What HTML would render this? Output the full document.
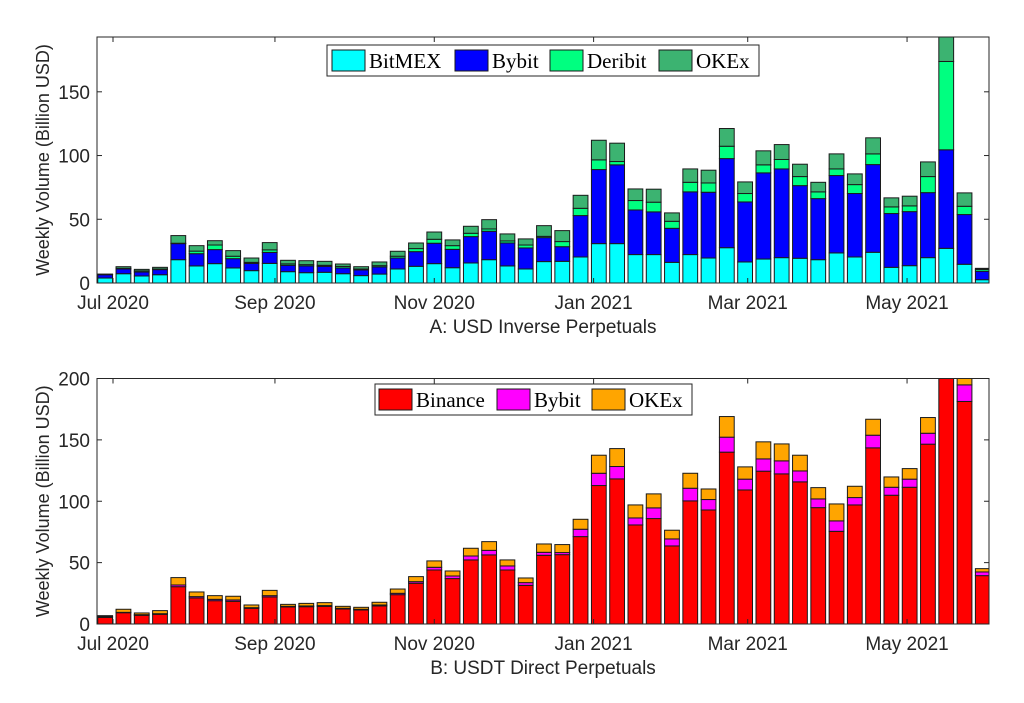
<!DOCTYPE html>
<html><head><meta charset="utf-8"><style>
html,body{margin:0;padding:0;background:#fff;}
svg{display:block;font-family:"Liberation Sans",sans-serif;}
.leg{font-family:"Liberation Serif",serif;font-size:21px;}
</style></head><body>
<svg id="chart" width="1024" height="703" viewBox="0 0 1024 703"></svg>
<script>
// ---- data ----
const weekCount = 49;
const xTickLabels = ["Jul 2020","Sep 2020","Nov 2020","Jan 2021","Mar 2021","May 2021"];
const xTickDays = [0, 62, 123, 184, 243, 304];
const aNames = ["BitMEX","Bybit","Deribit","OKEx"];
const aBitmex = [3.9,7.3,5.5,6.5,18.3,13.4,15.2,11.8,9.7,15.4,8.9,8.1,8.4,7.3,5.8,7.0,11.0,13.1,15.2,12.0,15.7,18.3,13.4,11.0,16.8,17.0,20.4,30.9,30.9,22.3,22.3,16.2,22.3,19.6,27.7,16.5,18.8,19.9,19.4,18.3,23.6,20.4,24.1,12.3,13.6,19.9,27.2,14.7,2.6];
const aBybit = [2.6,3.7,3.1,4.0,12.6,9.6,11.0,7.3,5.7,8.6,5.0,5.3,4.7,4.5,4.4,5.6,8.6,11.5,16.0,14.4,20.7,22.3,18.0,16.5,18.8,11.5,32.5,58.1,61.8,35.0,33.5,26.7,49.2,51.6,69.9,47.1,67.6,69.6,57.0,47.9,60.7,49.8,68.8,42.2,42.4,51.0,77.3,39.0,6.6];
const aDeribit = [0.2,0.5,0.9,0.5,0.3,2.0,3.6,1.9,0.8,2.0,1.1,1.0,0.8,1.2,0.8,1.0,1.4,2.4,3.1,2.9,2.6,1.8,1.6,2.3,1.0,4.0,5.7,7.6,2.6,7.4,7.6,5.5,7.5,7.3,9.7,6.6,6.3,7.4,7.1,5.3,5.2,7.0,8.4,5.2,4.5,12.6,69.3,6.5,1.5];
const aOkex = [0.3,1.3,1.2,1.3,6.0,4.3,3.4,4.4,3.4,5.7,2.8,3.1,3.1,1.9,1.8,2.9,3.9,4.4,5.7,4.5,5.5,7.3,5.5,4.8,8.4,8.6,10.2,15.4,14.4,9.1,10.2,6.6,10.5,10.0,13.9,9.1,11.0,11.7,9.7,7.5,11.8,8.4,12.6,7.1,7.6,11.5,30,10.5,0.8];
const aYTicks = [0,50,100,150];
const bNames = ["Binance","Bybit","OKEx"];
const bBinance = [5.4,9.2,7.1,7.9,30.4,21.2,19.0,18.5,12.8,22.0,13.9,14.1,14.4,12.2,11.4,14.7,23.9,33.2,44.0,37.0,52.2,56.3,44.0,31.5,56.0,56.5,71.2,112.8,118.2,80.7,85.9,63.6,100.3,92.9,140.0,109.2,124.5,122.3,115.8,94.8,75.5,97.0,143.5,104.9,111.4,146.5,215,181.3,39.4];
const bBybit = [0.6,0.3,0.5,0.5,1.4,1.1,1.1,1.1,0.5,1.1,0.5,0.6,0.6,0.6,0.6,0.8,1.1,1.3,2.2,2.1,3.2,3.7,3.3,2.2,2.4,1.7,6.0,10.0,10.1,5.7,8.7,5.7,10.3,8.5,12.2,8.8,10.0,10.6,8.9,7.1,8.5,6.0,10.3,6.5,6.6,8.9,10,13.5,3.0];
const bOkex = [0.8,2.5,1.4,2.5,6.0,3.8,3.0,3.0,2.2,4.3,1.6,2.1,2.4,1.6,1.6,2.2,3.5,4.1,5.2,4.1,6.3,7.1,4.9,3.8,6.8,6.5,8.1,14.7,14.6,10.6,11.4,7.1,12.2,8.6,16.8,10.0,13.9,13.8,12.8,9.2,13.8,9.2,13.0,8.4,8.6,12.8,15,10,2.7];
const bYTicks = [0,50,100,150,200];

const NS="http://www.w3.org/2000/svg";
const svg=document.getElementById('chart');
function mk(tag,attrs,parent){const e=document.createElementNS(NS,tag);for(const k in attrs)e.setAttribute(k,attrs[k]);(parent||svg).appendChild(e);return e;}
const L=97,R=989;
function xScale(day){return 113+day*2.612;}
const barW=14.8;

function panel(id,top,bottom,ymax,series,colors,yTicks,title,names,legend){
  const g=mk('g',{});
  
  
  const y=v=>bottom-(v/ymax)*(bottom-top);
  const cp=mk('clipPath',{id:id+'clip'},g);
  mk('rect',{x:L,y:top,width:R-L,height:bottom-top},cp);
  const bars=mk('g',{'clip-path':'url(#'+id+'clip)'},g);
  for(let i=0;i<weekCount;i++){
    const cx=xScale(-3+7*i);
    let base=0;
    for(let s=0;s<series.length;s++){
      const v=series[s][i];
      const r=mk('rect',{x:cx-barW/2,y:y(base+v),width:barW,height:Math.max(0,y(base)-y(base+v)),fill:colors[s],stroke:'#1a1a1a','stroke-width':1},bars);
      
      
      base+=v;
    }
  }
  const box=mk('rect',{x:L,y:top,width:R-L,height:bottom-top,fill:'none',stroke:'#262626','stroke-width':1},g);
  
  
  for(let k=0;k<xTickDays.length;k++){
    const x=xScale(xTickDays[k]);
    mk('line',{x1:x,x2:x,y1:bottom,y2:bottom-5,stroke:'#262626'},g);
    mk('line',{x1:x,x2:x,y1:top,y2:top+5,stroke:'#262626'},g);
    const t=mk('text',{x:x,y:bottom+26,'text-anchor':'middle','font-size':19,fill:'#262626'},g);
    t.textContent=xTickLabels[k];
    
    
  }
  for(const v of yTicks){
    const yy=y(v);
    mk('line',{x1:L,x2:L+5,y1:yy,y2:yy,stroke:'#262626'},g);
    mk('line',{x1:R,x2:R-5,y1:yy,y2:yy,stroke:'#262626'},g);
    const t=mk('text',{x:L-7,y:yy+7,'text-anchor':'end','font-size':19,fill:'#262626'},g);
    t.textContent=v;
    
    
  }
  const cy=(top+bottom)/2;
  const yt=mk('text',{x:0,y:0,transform:'translate(49,'+cy+') rotate(-90)','text-anchor':'middle','font-size':18,fill:'#262626'},g);
  yt.textContent='Weekly Volume (Billion USD)';
  
  
  const tt=mk('text',{x:543,y:bottom+50,'text-anchor':'middle','font-size':19,fill:'#262626'},g);
  tt.textContent=title;
  
  
  const lg=mk('g',{},g);
  
  
  mk('rect',{x:legend.x,y:legend.y,width:legend.w,height:31,fill:'#fff',stroke:'#262626'},lg);
  for(let s=0;s<names.length;s++){
    const px=legend.px[s];
    const e=mk('g',{},lg);
    
    
    mk('rect',{x:px,y:legend.y+5,width:33,height:21,fill:colors[s],stroke:'#1a1a1a'},e);
    const t=mk('text',{x:px+37,y:legend.y+23,'class':'leg',fill:'#000'},e);
    t.textContent=names[s];
  }
}
panel('a',37,283,193,[aBitmex,aBybit,aDeribit,aOkex],['#00ffff','#0000ff','#00ff80','#3cb371'],aYTicks,'A: USD Inverse Perpetuals',aNames,{x:327,y:45,w:432,px:[332,455,550,659]});
panel('b',378.5,624,200,[bBinance,bBybit,bOkex],['#ff0000','#ff00ff','#ffa500'],bYTicks,'B: USDT Direct Perpetuals',bNames,{x:375,y:384,w:317,px:[379,497,592]});
</script>
</body></html>
